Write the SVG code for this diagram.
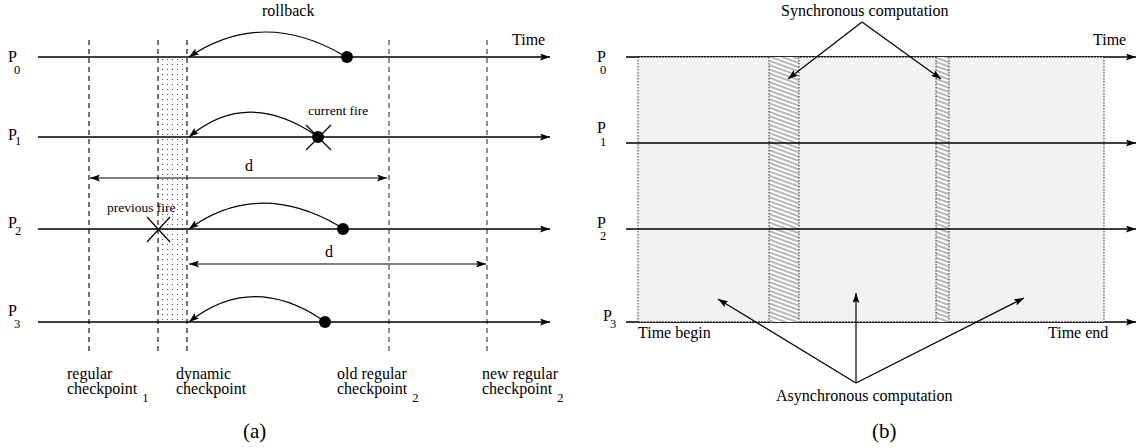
<svg xmlns="http://www.w3.org/2000/svg" width="1138" height="448" viewBox="0 0 1138 448">
  <style>
    .txt { font-family: "Liberation Serif", "Times New Roman", serif; font-size: 16px; fill: #000; }
    .small { font-size: 13.5px; }
    .sub { font-size: 12.5px; }
    .cap { font-size: 21px; }
    .tl { stroke: #000; stroke-width: 1.3; fill: none; }
    .arr { stroke: #000; stroke-width: 1.2; fill: none; }
    .chk { stroke: #000; stroke-width: 1.1; stroke-dasharray: 5 4; fill: none; }
    .chk2 { stroke: #555; stroke-width: 1.3; stroke-dasharray: 5 4; fill: none; }
    .dotb { stroke: #333; stroke-width: 1; stroke-dasharray: 1.5 1.5; fill: none; }
  </style>
  <defs>
    <marker id="ah" viewBox="0 0 10 7" refX="10" refY="3.5" markerWidth="10" markerHeight="7" markerUnits="userSpaceOnUse" orient="auto-start-reverse">
      <path d="M0,0 L10,3.5 L0,7 L2,3.5 z" fill="#000"/>
    </marker>
    <pattern id="dots" x="160" y="57" width="5" height="5" patternUnits="userSpaceOnUse">
      <circle cx="2.5" cy="2.5" r="0.6" fill="#333"/>
    </pattern>
    <pattern id="hatch" width="12" height="4" patternUnits="userSpaceOnUse" patternTransform="rotate(20)">
      <path d="M0,2 H12" stroke="#333" stroke-width="0.7"/>
    </pattern>
  </defs>

  <rect width="1138" height="448" fill="#fff"/>

  <!-- ===== (a) dynamic checkpoint panel ===== -->
  <g id="a-interval">
    <rect x="158" y="57" width="29" height="265" fill="url(#dots)"/>
  </g>

  <g id="a-checkpoints">
    <line class="chk" x1="89" y1="40" x2="89" y2="352"/>
    <line class="chk" x1="158" y1="40" x2="158" y2="352"/>
    <line class="chk" x1="187" y1="40" x2="187" y2="352"/>
    <line class="chk2" x1="389" y1="40" x2="389" y2="352"/>
    <line class="chk2" x1="487" y1="40" x2="487" y2="352"/>
  </g>

  <g id="a-processes">
    <line class="tl" x1="38" y1="57" x2="550" y2="57" marker-end="url(#ah)"/>
    <line class="tl" x1="38" y1="137" x2="550" y2="137" marker-end="url(#ah)"/>
    <line class="tl" x1="38" y1="229" x2="550" y2="229" marker-end="url(#ah)"/>
    <line class="tl" x1="38" y1="322" x2="550" y2="322" marker-end="url(#ah)"/>
    <text class="txt" x="8" y="62">P</text><text class="txt sub" x="14" y="74">0</text>
    <text class="txt" x="8" y="140">P</text><text class="txt sub" x="15" y="145">1</text>
    <text class="txt" x="8" y="228">P</text><text class="txt sub" x="15" y="235">2</text>
    <text class="txt" x="8" y="316">P</text><text class="txt sub" x="14" y="328">3</text>
    <text class="txt" x="512" y="45">Time</text>
  </g>

  <g id="a-fires">
    <circle cx="347" cy="57" r="6" fill="#000"/>
    <circle cx="318" cy="137" r="6" fill="#000"/>
    <path class="arr" d="M306,125 L331,150 M306,150 L331,125"/>
    <circle cx="343" cy="229" r="6" fill="#000"/>
    <path class="arr" d="M147,217 L170,242 M147,242 L170,217"/>
    <circle cx="325" cy="322" r="6" fill="#000"/>
    <text class="txt small" x="308" y="115">current fire</text>
    <text class="txt small" x="107" y="212">previous fire</text>
  </g>

  <g id="a-connectors">
    <path class="arr" d="M343,55 Q262,8 189,57" marker-end="url(#ah)"/>
    <path class="arr" d="M314,134 Q246,89 189,137" marker-end="url(#ah)"/>
    <path class="arr" d="M339,226 Q258,179 189,229" marker-end="url(#ah)"/>
    <path class="arr" d="M321,319 Q251,273 189,322" marker-end="url(#ah)"/>
    <line class="arr" x1="90" y1="178" x2="387" y2="178" marker-start="url(#ah)" marker-end="url(#ah)"/>
    <line class="arr" x1="189" y1="264" x2="486" y2="264" marker-start="url(#ah)" marker-end="url(#ah)"/>
  </g>

  <g id="a-labels">
    <text class="txt" x="262" y="16">rollback</text>
    <text class="txt" x="245" y="171">d</text>
    <text class="txt" x="325" y="257">d</text>
    <text class="txt" x="67" y="379">regular<tspan x="67" dy="15">checkpoint</tspan><tspan class="sub" dx="5" dy="8">1</tspan></text>
    <text class="txt" x="176" y="379">dynamic<tspan x="176" dy="15">checkpoint</tspan></text>
    <text class="txt" x="337" y="379">old regular<tspan x="337" dy="15">checkpoint</tspan><tspan class="sub" dx="5" dy="8">2</tspan></text>
    <text class="txt" x="482" y="379">new regular<tspan x="482" dy="15">checkpoint</tspan><tspan class="sub" dx="5" dy="8">2</tspan></text>
    <text class="txt cap" x="243" y="438">(a)</text>
  </g>

  <!-- ===== (b) synchronous / asynchronous panel ===== -->
  <g id="b-edges">
    <line class="tl" x1="626" y1="57" x2="1136" y2="57" marker-end="url(#ah)"/>
    <line class="tl" x1="626" y1="322" x2="1136" y2="322" marker-end="url(#ah)"/>
  </g>

  <g id="b-async-region">
    <rect x="638" y="57" width="466" height="265" fill="#f2f2f2"/>
    <path d="M638,57 H1104 M638,322 H1104" stroke="#000" stroke-width="1.2" stroke-dasharray="2 1" fill="none"/>
    <path class="dotb" d="M638,57 V322 M1104,57 V322"/>
  </g>

  <g id="b-sync-1">
    <rect x="769" y="57" width="30" height="265" fill="#fff"/>
    <rect x="769" y="57" width="30" height="265" fill="url(#hatch)"/>
    <path class="dotb" d="M769,57 V322 M799,57 V322"/>
  </g>
  <g id="b-sync-2">
    <rect x="936" y="57" width="13" height="265" fill="#fff"/>
    <rect x="936" y="57" width="13" height="265" fill="url(#hatch)"/>
    <path class="dotb" d="M936,57 V322 M949,57 V322"/>
  </g>

  <g id="b-processes">
    <line class="tl" x1="626" y1="143" x2="1136" y2="143" marker-end="url(#ah)"/>
    <line class="tl" x1="626" y1="229" x2="1136" y2="229" marker-end="url(#ah)"/>
    <text class="txt" x="597" y="62">P</text><text class="txt sub" x="600" y="74">0</text>
    <text class="txt" x="597" y="133">P</text><text class="txt sub" x="600" y="146">1</text>
    <text class="txt" x="597" y="228">P</text><text class="txt sub" x="600" y="240">2</text>
    <text class="txt" x="603" y="321">P</text><text class="txt sub" x="610" y="328">3</text>
    <text class="txt" x="1093" y="45">Time</text>
    <text class="txt" x="638" y="338">Time begin</text>
    <text class="txt" x="1048" y="338">Time end</text>
  </g>

  <g id="b-connectors">
    <line class="arr" x1="862" y1="22" x2="788" y2="79" marker-end="url(#ah)"/>
    <line class="arr" x1="862" y1="22" x2="941" y2="79" marker-end="url(#ah)"/>
    <line class="arr" x1="856" y1="383" x2="718" y2="299" marker-end="url(#ah)"/>
    <line class="arr" x1="856" y1="383" x2="856" y2="293" marker-end="url(#ah)"/>
    <line class="arr" x1="856" y1="383" x2="1024" y2="298" marker-end="url(#ah)"/>
  </g>

  <g id="b-labels">
    <text class="txt" x="781" y="16">Synchronous computation</text>
    <text class="txt" x="776" y="401">Asynchronous computation</text>
    <text class="txt cap" x="872" y="438">(b)</text>
  </g>
</svg>
